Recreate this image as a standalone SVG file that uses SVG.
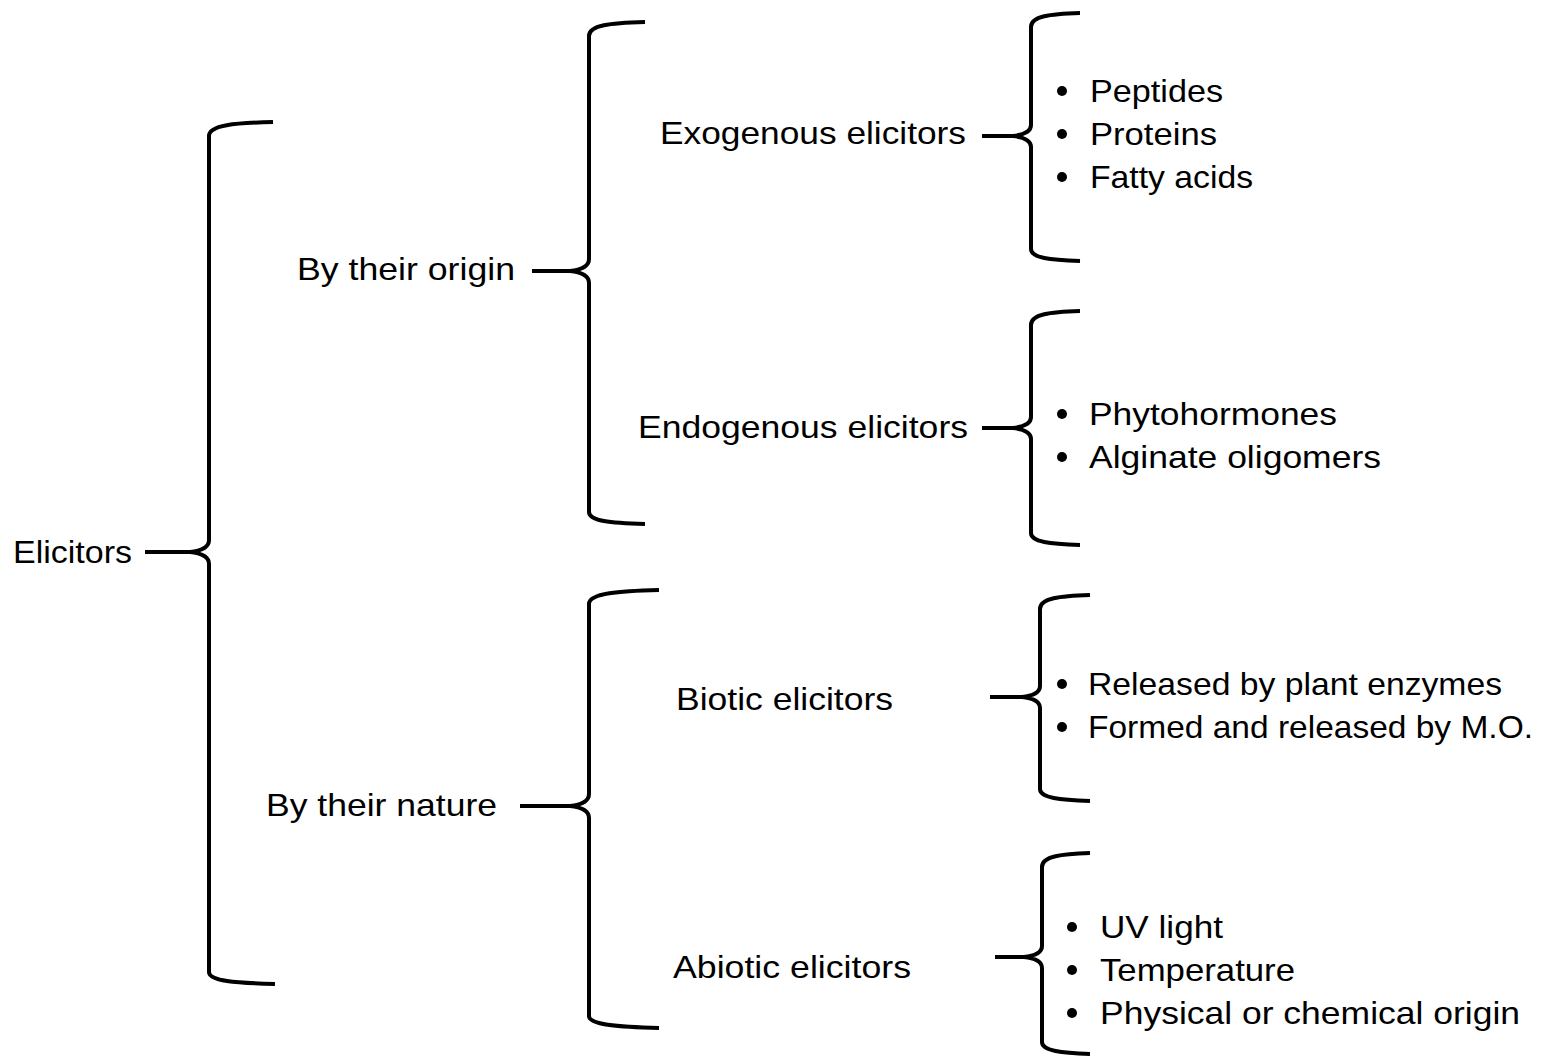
<svg xmlns="http://www.w3.org/2000/svg" width="1545" height="1059" viewBox="0 0 1545 1059">
<style>
.b{fill:none;stroke:#000;stroke-width:4;stroke-linecap:butt;stroke-linejoin:round}
text{font-family:"Liberation Sans",Arial,Helvetica,sans-serif;font-size:32px;fill:#000}
.d{fill:#000}
</style>
<rect width="1545" height="1059" fill="#fff"/>
<g id="connectors">
<path class="b" d="M273,122 C235,123 209,125 209,136 L209,540 Q209,550 190,552 L145,552 M190,552 Q209,554 209,564 L209,972 C209,981 235,983 275,984"/>
<path class="b" d="M645,22 C610,23 589,25 589,36 L589,259 Q589,269 570,271 L532,271 M570,271 Q589,273 589,283 L589,512 C589,521 610,523 645,524"/>
<path class="b" d="M659,590 C620,591 589,593 589,604 L589,794 Q589,804 570,806 L520,806 M570,806 Q589,808 589,818 L589,1016 C589,1025 620,1027 659,1028"/>
<path class="b" d="M1080,13 C1050,14 1031,16 1031,27 L1031,125 Q1031,134 1013,136 L982,136 M1013,136 Q1031,138 1031,147 L1031,249 C1031,258 1050,260 1080,261"/>
<path class="b" d="M1080,311 C1050,312 1031,314 1031,325 L1031,417 Q1031,426 1013,428 L982,428 M1013,428 Q1031,430 1031,439 L1031,533 C1031,542 1050,544 1080,545"/>
<path class="b" d="M1090,595 C1060,596 1040,598 1040,609 L1040,686 Q1040,695 1022,697 L990,697 M1022,697 Q1040,699 1040,708 L1040,789 C1040,798 1060,800 1090,801"/>
<path class="b" d="M1090,853 C1062,854 1042,856 1042,867 L1042,946 Q1042,955 1024,957 L995,957 M1024,957 Q1042,959 1042,968 L1042,1042 C1042,1051 1062,1053 1090,1054"/>
</g>
<g id="n-elicitors"><text x="13" y="563" textLength="119" lengthAdjust="spacingAndGlyphs">Elicitors</text></g>
<g id="n-origin"><text x="297" y="280" textLength="218" lengthAdjust="spacingAndGlyphs">By their origin</text></g>
<g id="n-nature"><text x="266" y="816" textLength="231" lengthAdjust="spacingAndGlyphs">By their nature</text></g>
<g id="n-exogenous"><text x="660" y="144" textLength="306" lengthAdjust="spacingAndGlyphs">Exogenous elicitors</text></g>
<g id="n-endogenous"><text x="638" y="438" textLength="330" lengthAdjust="spacingAndGlyphs">Endogenous elicitors</text></g>
<g id="n-biotic"><text x="676" y="710" textLength="217" lengthAdjust="spacingAndGlyphs">Biotic elicitors</text></g>
<g id="n-abiotic"><text x="673" y="978" textLength="238" lengthAdjust="spacingAndGlyphs">Abiotic elicitors</text></g>
<g id="n-exo-list">
<circle class="d" cx="1062" cy="91" r="5"/><text x="1090" y="102" textLength="133" lengthAdjust="spacingAndGlyphs">Peptides</text>
<circle class="d" cx="1062" cy="134" r="5"/><text x="1090" y="145" textLength="127" lengthAdjust="spacingAndGlyphs">Proteins</text>
<circle class="d" cx="1062" cy="177" r="5"/><text x="1090" y="188" textLength="163" lengthAdjust="spacingAndGlyphs">Fatty acids</text>
</g>
<g id="n-endo-list">
<circle class="d" cx="1062" cy="414" r="5"/><text x="1089" y="425" textLength="248" lengthAdjust="spacingAndGlyphs">Phytohormones</text>
<circle class="d" cx="1062" cy="457" r="5"/><text x="1089" y="468" textLength="292" lengthAdjust="spacingAndGlyphs">Alginate oligomers</text>
</g>
<g id="n-biotic-list">
<circle class="d" cx="1062" cy="684" r="5"/><text x="1088" y="695" textLength="414" lengthAdjust="spacingAndGlyphs">Released by plant enzymes</text>
<circle class="d" cx="1062" cy="727" r="5"/><text x="1088" y="738" textLength="445" lengthAdjust="spacingAndGlyphs">Formed and released by M.O.</text>
</g>
<g id="n-abiotic-list">
<circle class="d" cx="1072" cy="927" r="5"/><text x="1100" y="938" textLength="123" lengthAdjust="spacingAndGlyphs">UV light</text>
<circle class="d" cx="1072" cy="970" r="5"/><text x="1100" y="981" textLength="195" lengthAdjust="spacingAndGlyphs">Temperature</text>
<circle class="d" cx="1072" cy="1013" r="5"/><text x="1100" y="1024" textLength="420" lengthAdjust="spacingAndGlyphs">Physical or chemical origin</text>
</g>
</svg>
